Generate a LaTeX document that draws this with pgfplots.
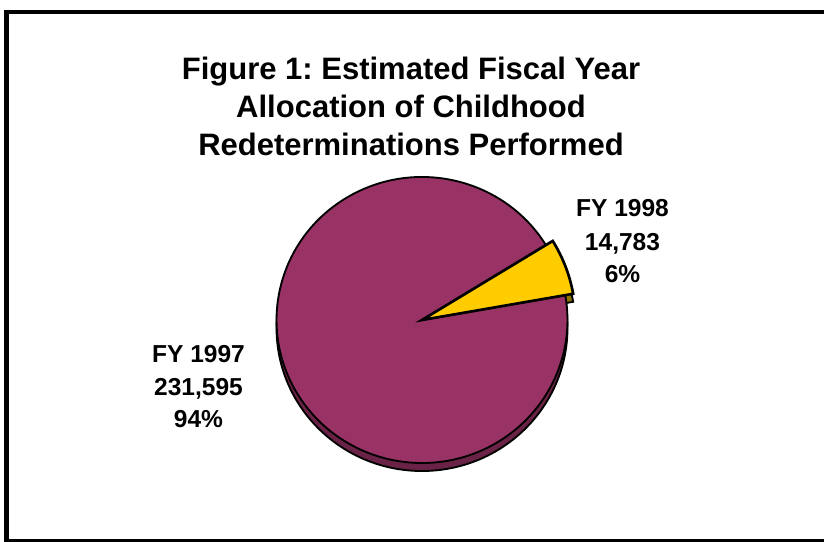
\documentclass[border=0pt]{standalone}
\usepackage{fontspec}
\setmainfont{Liberation Sans}
\usepackage{pgfplots}
\usepackage{pgfplotstable}
\pgfplotsset{compat=1.18}
\definecolor{pieP}{HTML}{993366}
\definecolor{pieY}{HTML}{FFCC00}
\definecolor{sideP}{HTML}{6A2346}
\definecolor{sideY}{HTML}{8F7300}
\pgfplotstableread{
label value
FY1997 231595
FY1998 14783
}\piedata
\pgfplotstablegetelem{0}{value}\of\piedata \let\vA\pgfplotsretval
\pgfplotstablegetelem{1}{value}\of\piedata \let\vB\pgfplotsretval
\edef\angB{\fpeval{360*\vB/(\vA+\vB)}}
\def\startB{10}
\edef\endB{\fpeval{\startB+\angB}}
\edef\endA{\fpeval{\startB+360}}
\def\rx{109.1pt}
\def\ry{107.25pt}
\def\ryy{113.15pt}
\def\rxx{115.1pt}
\frenchspacing
\begin{document}
\begin{tikzpicture}
\useasboundingbox (0,0) rectangle (618pt,406.5pt);
\begin{axis}[at={(0,0)}, anchor=origin, x=0.75pt, y=0.75pt, xmin=0, xmax=824, ymin=0, ymax=542,
  hide axis, clip=false]
% frame
\draw[black, line width=3.4pt] (axis cs:6.25,-5) -- (axis cs:6.25,530) -- (axis cs:840,530);
\draw[black, line width=1.9pt] (axis cs:4,1.25) -- (axis cs:840,1.25);
% side (depth) of the pie
\filldraw[fill=sideP, draw=black, line width=1.4pt] (axis cs:422,214) ellipse [x radius=\rx, y radius=\ry];
\filldraw[fill=sideY, draw=black, line width=1.4pt] (axis cs:422,214) -- ++({\rxx*cos(\startB)},{\ryy*sin(\startB)})
   arc[start angle=\startB, end angle=\endB, x radius=\rxx, y radius=\ryy] -- cycle;
% top faces
\filldraw[fill=pieP, draw=black, line width=1.4pt] (axis cs:422,222) -- ++({\rx*cos(\endB)},{\ry*sin(\endB)})
   arc[start angle=\endB, end angle=\endA, x radius=\rx, y radius=\ry] -- cycle;
\filldraw[fill=pieY, draw=black, line width=2pt, line join=miter] (axis cs:422,222) -- ++({\rxx*cos(\startB)},{\ryy*sin(\startB)})
   arc[start angle=\startB, end angle=\endB, x radius=\rxx, y radius=\ryy] -- cycle;
% title
\node[anchor=base, font=\fontsize{23.25pt}{28pt}\selectfont\bfseries] at (axis cs:411,462) {Figure 1: Estimated Fiscal Year};
\node[anchor=base, font=\fontsize{23.25pt}{28pt}\selectfont\bfseries] at (axis cs:411,424) {Allocation of Childhood};
\node[anchor=base, font=\fontsize{23.25pt}{28pt}\selectfont\bfseries] at (axis cs:411,386) {Redeterminations Performed};
% labels
\node[anchor=base, font=\fontsize{18.4pt}{22pt}\selectfont\bfseries] at (axis cs:622.5,325) {FY 1998};
\node[anchor=base, font=\fontsize{18.4pt}{22pt}\selectfont\bfseries] at (axis cs:622.5,291) {14,783};
\node[anchor=base, font=\fontsize{18.4pt}{22pt}\selectfont\bfseries] at (axis cs:622.5,259) {6\%};
\node[anchor=base, font=\fontsize{18.4pt}{22pt}\selectfont\bfseries] at (axis cs:198.5,179) {FY 1997};
\node[anchor=base, font=\fontsize{18.4pt}{22pt}\selectfont\bfseries] at (axis cs:198.5,146.5) {231,595};
\node[anchor=base, font=\fontsize{18.4pt}{22pt}\selectfont\bfseries] at (axis cs:198.5,114) {94\%};
\end{axis}
\end{tikzpicture}
\end{document}
